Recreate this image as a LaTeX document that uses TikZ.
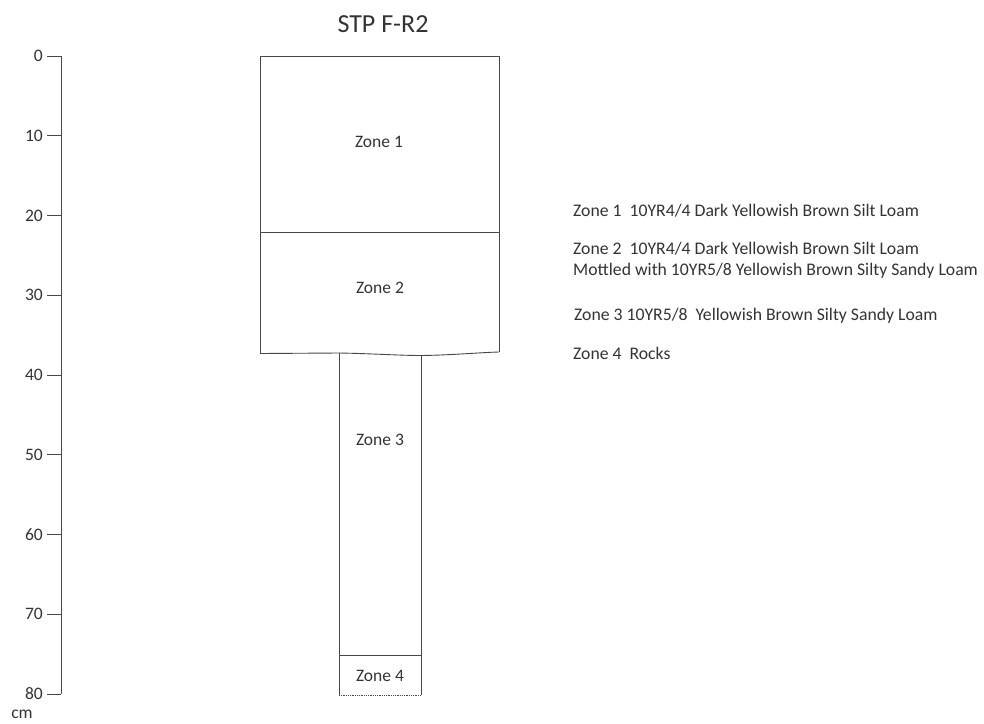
\documentclass[tikz,border=0pt]{standalone}
\usepackage{fontspec}
\setmainfont{Carlito}
\begin{document}
\begin{tikzpicture}[x=1pt,y=-1pt,
  ln/.style={draw=black!72, line width=0.9pt},
  lbl/.style={text=black!80, font=\fontsize{17.5}{20}\selectfont, inner sep=0pt},
  leg/.style={text=black!80, font=\fontsize{17.7}{20}\selectfont, inner sep=0pt, anchor=west}]
\useasboundingbox[fill=white] (0,0) rectangle (984,723);
% title
\node[lbl, font=\fontsize{26}{30}\selectfont] (title) at (383,24) {STP F-R2};
% depth axis
\coordinate (atop) at (61,56);
\coordinate (abot) at (61,694);
\draw[ln] (atop) -- (abot);
\foreach \k in {0,...,8}{
  \pgfmathsetmacro{\yy}{56+79.75*\k}
  \coordinate (t\k) at (47,\yy);
  \coordinate (u\k) at (61,\yy);
  \draw[ln] (t\k) -- (u\k);
  \pgfmathtruncatemacro{\v}{10*\k}
  \node[lbl, anchor=east] (d\k) at (43,\yy) {\v};
}
\node[lbl] (cm) at (22,714) {cm};
% profile upper box
\coordinate (p1) at (260,56);
\coordinate (p2) at (499,56);
\coordinate (p3) at (499,352);
\coordinate (p4) at (421,355.5);
\coordinate (p5) at (339,353);
\coordinate (p6) at (260,353.5);
\draw[ln] (p6) -- (p1) -- (p2) -- (p3);
\draw[ln] (p6) -- (p5) .. controls (370,353.5) and (400,355.5) .. (p4) .. controls (450,355.2) and (480,352.5) .. (p3);
\coordinate (z12a) at (260,232);
\coordinate (z12b) at (499,232);
\draw[ln] (z12a) -- (z12b);
% lower column
\coordinate (c1) at (339,695);
\coordinate (c2) at (421,695);
\draw[ln] (p5) -- (c1);
\draw[ln] (p4) -- (c2);
\coordinate (z34a) at (339,655);
\coordinate (z34b) at (421,655);
\draw[ln] (z34a) -- (z34b);
\draw[draw=black!72, line width=0.8pt, densely dotted] (c1) -- (c2);
% zone labels
\node[lbl] (zone1) at (379,142) {Zone 1};
\node[lbl] (zone2) at (380,288) {Zone 2};
\node[lbl] (zone3) at (380,440) {Zone 3};
\node[lbl] (zone4) at (380,676) {Zone 4};
% legend
\node[leg] (l1) at (573,211) {Zone 1\ \ 10YR4/4 Dark Yellowish Brown Silt Loam};
\node[leg] (l2) at (573,249) {Zone 2\ \ 10YR4/4 Dark Yellowish Brown Silt Loam};
\node[leg] (l3) at (573,271) {Mottled with 10YR5/8 Yellowish Brown Silty Sandy Loam};
\node[leg] (l4) at (574,316) {Zone 3 10YR5/8\ \ Yellowish Brown Silty Sandy Loam};
\node[leg] (l5) at (573,353) {Zone 4\ \ Rocks};
\end{tikzpicture}
\end{document}
